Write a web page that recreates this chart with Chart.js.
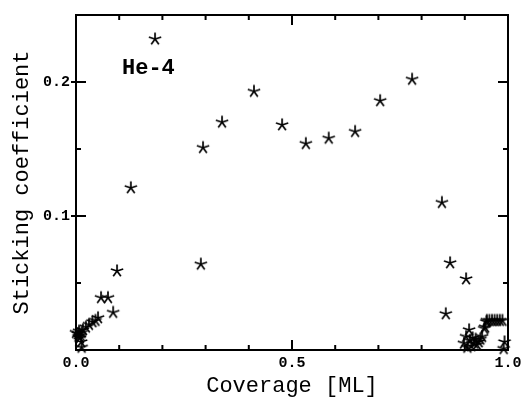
<!DOCTYPE html>
<html>
<head>
<meta charset="utf-8">
<script src="https://cdn.jsdelivr.net/npm/chart.js@4/dist/chart.umd.min.js"></script>
<style>
  html, body { margin: 0; padding: 0; background: #fff; }
  #wrap { width: 526px; height: 399px; }
</style>
</head>
<body>
<div id="wrap"><canvas id="chart"></canvas></div>
<script>
const coverage = [
  0.000, 0.004, 0.007, 0.010, 0.013, 0.009, 0.016, 0.023, 0.030, 0.038, 0.045, 0.051,
  0.058, 0.074, 0.086, 0.012, 0.013, 0.006,
  0.095, 0.127, 0.183, 0.289, 0.294, 0.338, 0.412, 0.477, 0.532, 0.585, 0.646, 0.704,
  0.778, 0.847, 0.866, 0.903, 0.856,
  0.898, 0.903, 0.906, 0.910, 0.912, 0.915, 0.918, 0.922, 0.925, 0.928, 0.932, 0.936,
  0.940, 0.945, 0.947, 0.950,
  0.951, 0.957, 0.963, 0.969, 0.975, 0.981, 0.987, 0.992, 0.990,
];
const sticking = [
  0.013, 0.012, 0.014, 0.011, 0.013, 0.009, 0.015, 0.017, 0.019, 0.021, 0.022, 0.024,
  0.039, 0.039, 0.028, 0.006, 0.002, 0.010,
  0.059, 0.121, 0.232, 0.064, 0.151, 0.170, 0.193, 0.168, 0.154, 0.158, 0.163, 0.186,
  0.202, 0.110, 0.065, 0.053, 0.027,
  0.005, 0.010, 0.002, 0.015, 0.007, 0.003, 0.009, 0.005, 0.008, 0.004, 0.006, 0.008,
  0.010, 0.016, 0.017, 0.021,
  0.022, 0.022, 0.022, 0.022, 0.022, 0.022, 0.022, 0.006, 0.001,
];

const xLabelTicks = [0, 0.5, 1.0];
const yLabelTicks = [0.1, 0.2];
const xMinorTicks = [0.1, 0.2, 0.3, 0.4, 0.6, 0.7, 0.8, 0.9];
const yMinorTicks = [0.05, 0.15];
const sampleLabel = "He-4";

const FONT = "'Liberation Mono', 'Courier New', monospace";

// five armed asterisk like the plotting program uses
function makeStar(size, arm) {
  const c = document.createElement("canvas");
  c.width = size;
  c.height = size;
  const g = c.getContext("2d");
  g.strokeStyle = "#000";
  g.lineWidth = 1.7;
  g.lineCap = "butt";
  const m = size / 2;
  g.beginPath();
  for (let k = 0; k < 5; k++) {
    const a = -Math.PI / 2 + (k * 2 * Math.PI) / 5;
    g.moveTo(m, m);
    g.lineTo(m + arm * Math.cos(a), m + arm * Math.sin(a));
  }
  g.stroke();
  return c;
}

// frame, inward ticks and the sample label
const framePlugin = {
  id: "frame",
  afterDatasetsDraw(chart) {
    const { ctx, chartArea: a, scales } = chart;
    const xs = scales.x;
    const ys = scales.y;
    ctx.save();
    ctx.strokeStyle = "#000";
    ctx.lineWidth = 2;
    ctx.strokeRect(a.left, a.top, a.right - a.left, a.bottom - a.top);

    ctx.lineWidth = 2;
    ctx.beginPath();
    const xTick = (v, len) => {
      const px = xs.getPixelForValue(v);
      ctx.moveTo(px, a.bottom);
      ctx.lineTo(px, a.bottom - len);
      ctx.moveTo(px, a.top);
      ctx.lineTo(px, a.top + len);
    };
    const yTick = (v, len, out) => {
      const py = ys.getPixelForValue(v);
      ctx.moveTo(a.left - out, py);
      ctx.lineTo(a.left + len, py);
      ctx.moveTo(a.right, py);
      ctx.lineTo(a.right - len, py);
    };
    xMinorTicks.forEach((v) => xTick(v, 5));
    xTick(0.5, 10);
    yMinorTicks.forEach((v) => yTick(v, 5, 0));
    yLabelTicks.forEach((v) => yTick(v, 10, 5));
    ctx.stroke();

    ctx.fillStyle = "#000";
    ctx.font = "bold 22px " + FONT;
    ctx.textBaseline = "middle";
    ctx.textAlign = "left";
    ctx.fillText(sampleLabel, a.left + 46, a.top + 53);
    ctx.restore();
  },
};

const points = coverage.map((x, i) => ({ x, y: sticking[i] }));

new Chart(document.getElementById("chart"), {
  type: "scatter",
  data: {
    datasets: [
      {
        data: points,
        pointStyle: makeStar(16, 6.5),
        pointRadius: 6,
        clip: false,
      },
    ],
  },
  options: {
    responsive: true,
    maintainAspectRatio: false,
    animation: false,
    events: [],
    layout: { padding: { left: 0, right: 18, top: 13, bottom: 0 } },
    plugins: { legend: { display: false }, tooltip: { enabled: false } },
    scales: {
      x: {
        type: "linear",
        min: 0,
        max: 1,
        grid: { display: false, drawTicks: false },
        border: { display: false },
        afterBuildTicks: (s) => {
          s.ticks = xLabelTicks.map((v) => ({ value: v }));
        },
        afterFit: (s) => {
          s.height = 49;
        },
        ticks: {
          padding: 4,
          color: "#000",
          maxRotation: 0,
          font: { family: FONT, size: 15, weight: "bold" },
          callback: (v) => Number(v).toFixed(1),
        },
        title: {
          display: true,
          text: "Coverage [ML]",
          color: "#000",
          padding: { top: 0, bottom: 0 },
          font: { family: FONT, size: 22 },
        },
      },
      y: {
        type: "linear",
        min: 0,
        max: 0.25,
        grid: { display: false, drawTicks: false },
        border: { display: false },
        afterBuildTicks: (s) => {
          s.ticks = yLabelTicks.map((v) => ({ value: v }));
        },
        afterFit: (s) => {
          s.width = 76;
        },
        ticks: {
          padding: 6,
          color: "#000",
          font: { family: FONT, size: 15, weight: "bold" },
          callback: (v) => Number(v).toFixed(1),
        },
        title: {
          display: true,
          text: "Sticking coefficient",
          color: "#000",
          padding: { top: 9, bottom: 0 },
          font: { family: FONT, size: 22 },
        },
      },
    },
  },
  plugins: [framePlugin],
});
</script>
</body>
</html>
